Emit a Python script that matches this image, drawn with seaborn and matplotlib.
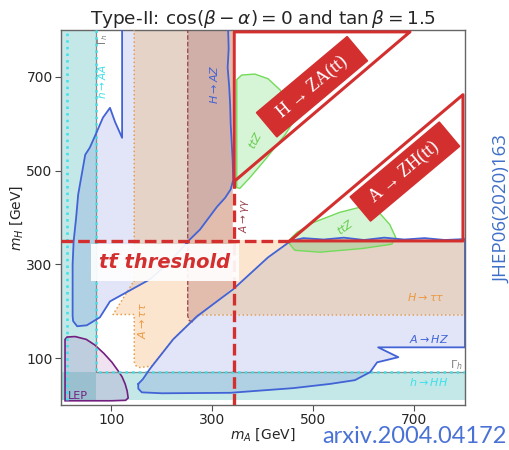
import matplotlib
matplotlib.use("Agg")
import matplotlib.pyplot as plt
from matplotlib.lines import Line2D
import seaborn as sns
import numpy as np

# ---------------- data (GeV) ----------------
xticks = [100, 300, 500, 700]
yticks = [100, 300, 500, 700]

# H -> AZ excluded region (blue contour)
HAZ_mA = [121, 121, 107, 97, 83, 71, 57, 48, 34, 30, 25, 23, 23, 24, 32, 51, 77, 97,
          176, 215, 255, 275, 309, 325, 336, 341, 340, 338, 336, 335, 333, 330, 332, 331]
HAZ_mH = [800, 570, 604, 634, 613, 583, 549, 534, 449, 400, 349, 300, 190, 179, 168, 170, 187, 221,
          268, 305, 353, 374, 423, 442, 460, 480, 520, 560, 600, 640, 680, 720, 760, 800]

# A -> HZ excluded region (blue contour)
AHZ_mA = [153, 162, 176, 222, 269, 341, 410, 455, 480, 520, 560, 600, 640, 680, 720, 760, 800,
          800, 628, 668, 626, 612, 582, 533, 460, 335, 200, 160, 153]
AHZ_mH = [45, 55, 77, 140, 189, 247, 315, 350, 356, 353, 357, 352, 357, 353, 356, 352, 354,
          123, 123, 102, 91, 70, 53, 45, 36, 26, 25, 27, 35]

# A -> tautau / H -> tautau region (orange)
TAU_mA = [145, 340, 340, 800, 800, 272, 222, 180, 156, 148, 145, 145, 103, 143, 145]
TAU_mH = [800, 800, 352, 352, 193, 193, 140, 83, 80, 84, 92, 193, 193, 262, 262]

# A -> gamma gamma region (maroon)
AGG_mA = [251, 340, 340, 261, 254, 251]
AGG_mH = [800, 800, 250, 177, 180, 190]

# ttZ regions (green)
TTZ1_mA = [348, 348, 358, 384, 410, 434, 453, 463, 444, 404, 374, 354]
TTZ1_mH = [464, 694, 704, 706, 696, 672, 640, 609, 577, 523, 485, 462]
TTZ2_mA = [453, 467, 499, 552, 596, 628, 651, 663, 655, 598, 513, 463, 453]
TTZ2_mH = [353, 368, 389, 411, 423, 413, 385, 357, 343, 334, 326, 330, 343]

# LEP region (purple)
LEP_mA = [8, 12, 28, 50, 67, 85, 101, 113, 121, 127, 131, 133, 128, 100, 8]
LEP_mH = [140, 145, 146, 140, 128, 110, 91, 73, 60, 45, 30, 15, 10, 9, 9]

# h -> AA / h -> HH bands and Gamma_h lines
hAA_mA = [0, 69]
hHH_mH = [10, 70]

# ttbar threshold
ttbar = 345

# red annotation triangles
UP_mA = [343, 343, 691, 343]
UP_mH = [477, 796, 796, 477]
LO_mA = [453, 796, 796, 453]
LO_mH = [350, 662, 350, 350]

# ---------------- style ----------------
sns.set_style("ticks")
plt.rcParams['font.family'] = ['DejaVu Sans']

fig = plt.figure(figsize=(5.1, 4.5), dpi=100)
ax = fig.add_axes([61/510, 45/450, 404/510, 375/450])
ax.set_xlim(0, 800)
ax.set_ylim(0, 800)

teal = (40/255, 170/255, 172/255)
lav = (74/255, 95/255, 208/255)
orng = (245/255, 165/255, 80/255)
maroon = (150/255, 70/255, 80/255)
blue = "#4263d6"
red = "#d32f2f"
cyan = "#3fe0e8"

# bands
ax.fill([hAA_mA[0], hAA_mA[1], hAA_mA[1], hAA_mA[0]], [hHH_mH[0], hHH_mH[0], 800, 800],
        color=teal, alpha=0.27, lw=0, zorder=1)
ax.fill([0, 800, 800, 0], [hHH_mH[0], hHH_mH[0], hHH_mH[1], hHH_mH[1]],
        color=teal, alpha=0.27, lw=0, zorder=1)

# filled regions
ax.fill(HAZ_mA, HAZ_mH, color=lav, alpha=0.16, lw=0, zorder=2)
ax.fill(AHZ_mA, AHZ_mH, color=lav, alpha=0.16, lw=0, zorder=2)
ax.fill(TAU_mA, TAU_mH, color=orng, alpha=0.28, lw=0, zorder=2)
ax.fill(AGG_mA, AGG_mH, color=maroon, alpha=0.25, lw=0, zorder=2)
ax.fill(TTZ1_mA, TTZ1_mH, facecolor=(0.2, 0.8, 0.2, 0.2), edgecolor=(0.45, 0.86, 0.35), lw=1, zorder=3)
ax.fill(TTZ2_mA, TTZ2_mH, facecolor=(0.2, 0.8, 0.2, 0.2), edgecolor=(0.45, 0.86, 0.35), lw=1, zorder=3)
ax.fill(LEP_mA, LEP_mH, facecolor=(0.63, 0.25, 0.67, 0.15), edgecolor=(0.45, 0.12, 0.5), lw=1.2, zorder=3)

# dotted / dashed boundaries
ax.plot([TAU_mA[5], TAU_mA[4]], [TAU_mH[5], TAU_mH[4]], ls=':', color=(0.9, 0.62, 0.3), lw=1.1, zorder=3)
ax.plot(TAU_mA[5:] + [TAU_mA[0]], TAU_mH[5:] + [TAU_mH[0]], ls=':', color=(0.9, 0.62, 0.3), lw=1.1, zorder=3)
ax.plot(AGG_mA[3:] + [AGG_mA[0]], AGG_mH[3:] + [AGG_mH[0]], ls='--', color=(0.6, 0.25, 0.3), lw=0.9, zorder=3)
ax.plot([hAA_mA[1], hAA_mA[1], 800], [800, hHH_mH[1], hHH_mH[1]], color='0.55', lw=0.9, zorder=3)
ax.plot([hAA_mA[1], hAA_mA[1], 800], [800, hHH_mH[1], hHH_mH[1]], ls=':', color=cyan, lw=1.8, zorder=3)
ax.plot([12, 12], [hHH_mH[0], 800], ls=':', color=cyan, lw=1.8, zorder=3)

# blue contours via seaborn
sns.lineplot(x=HAZ_mA, y=HAZ_mH, sort=False, estimator=None, color=blue, lw=1.3, ax=ax, zorder=4)
sns.lineplot(x=AHZ_mA + [AHZ_mA[0]], y=AHZ_mH + [AHZ_mH[0]], sort=False, estimator=None,
             color=blue, lw=1.3, ax=ax, zorder=4)

# red annotation
sns.lineplot(x=UP_mA, y=UP_mH, sort=False, estimator=None, color=red, lw=2.2, ax=ax, zorder=6)
sns.lineplot(x=LO_mA, y=LO_mH, sort=False, estimator=None, color=red, lw=2.2, ax=ax, zorder=6)
ax.plot([0, LO_mA[0]], [350, 350], color=red, lw=2.4, dashes=(3.5, 1.5), zorder=6)
ax.plot([ttbar - 2, ttbar - 2], [0, UP_mH[0]], color=red, lw=2.4, dashes=(3.5, 1.5), zorder=6)

box = dict(boxstyle='square,pad=0.4', fc=red, ec=red)
ax.text(497, 679, "  H → ZA(tt)  ", rotation=40, rotation_mode='anchor', ha='center', va='center',
        color='white', fontsize=13, family=['Liberation Serif', 'DejaVu Serif'], bbox=box, zorder=7)
ax.text(681, 498, "  A → ZH(tt)  ", rotation=40, rotation_mode='anchor', ha='center', va='center',
        color='white', fontsize=13, family=['Liberation Serif', 'DejaVu Serif'], bbox=box, zorder=7)

ax.text(206, 304, "tt\u0304 threshold", ha='center', va='center', color=red, fontsize=14,
        fontweight='bold', fontstyle='italic', zorder=8,
        bbox=dict(boxstyle='square,pad=0.45', fc='white', ec='none', alpha=0.92))

# small labels
ax.text(81, 690, r"$h\to AA$", rotation=90, color=cyan, fontsize=7.5, ha='center', va='center', zorder=5)
ax.text(84, 780, r"$\Gamma_h$", rotation=90, color='0.5', fontsize=7.5, ha='center', va='center', zorder=5)
ax.text(303, 685, r"$H\to AZ$", rotation=90, color=blue, fontsize=8, ha='center', va='center', zorder=5)
ax.text(362, 405, r"$A\to\gamma\gamma$", rotation=90, color=(0.6, 0.25, 0.3), fontsize=7.5,
        ha='center', va='center', zorder=5)
ax.text(384, 566, r"$ttZ$", rotation=62, color=(0.4, 0.8, 0.3), fontsize=8, ha='center', va='center', zorder=5)
ax.text(562, 381, r"$ttZ$", rotation=35, color=(0.4, 0.8, 0.3), fontsize=8, ha='center', va='center', zorder=5)
ax.text(160, 181, r"$A\to\tau\tau$", rotation=90, color=(0.92, 0.6, 0.25), fontsize=8,
        ha='center', va='center', zorder=5)
ax.text(722, 230, r"$H\to\tau\tau$", color=(0.92, 0.6, 0.25), fontsize=8, ha='center', va='center', zorder=5)
ax.text(728, 140, r"$A\to HZ$", color=blue, fontsize=8, ha='center', va='center', zorder=5)
ax.text(782, 85, r"$\Gamma_h$", color='0.5', fontsize=8, ha='center', va='center', zorder=5)
ax.text(728, 49, r"$h\to HH$", color=cyan, fontsize=8, ha='center', va='center', zorder=5)
ax.text(34, 20, "LEP", color=(0.45, 0.12, 0.5), fontsize=8, ha='center', va='center', zorder=5)

# axes styling
ax.set_xticks(xticks)
ax.set_yticks(yticks)
ax.tick_params(labelsize=10, length=4, pad=2, color='0.3', labelcolor='0.15')
for s in ax.spines.values():
    s.set_color('0.4')
    s.set_linewidth(1.0)
    s.set_visible(True)
ax.set_xlabel(r"$m_A$ [GeV]", fontsize=10, labelpad=-1)
ax.set_ylabel(r"$m_H$ [GeV]", fontsize=10, labelpad=1)
ax.set_title(r"Type-II: $\cos(\beta-\alpha)=0$ and $\tan\beta=1.5$", fontsize=13.3, pad=4)

# side annotations
jt = fig.text(0.984, 0.535, "JHEP06(2020)163", rotation=90, ha='center', va='center',
              color='#3f6fc8', fontsize=13.5, family=['Open Sans', 'DejaVu Sans'])
fig.text(0.812, 0.029, "arxiv.2004.04172", ha='center', va='center',
         color='#4a72d6', fontsize=17, family=['Lato', 'DejaVu Sans'])

fig.canvas.draw()
bb = jt.get_window_extent()
W, H = fig.bbox.width, fig.bbox.height
fig.add_artist(Line2D([(bb.x1 + 0.5) / W] * 2, [bb.y0 / H, bb.y1 / H],
                      color='#3f6fc8', lw=1.0, transform=fig.transFigure))

fig.savefig("out.png", dpi=100)
